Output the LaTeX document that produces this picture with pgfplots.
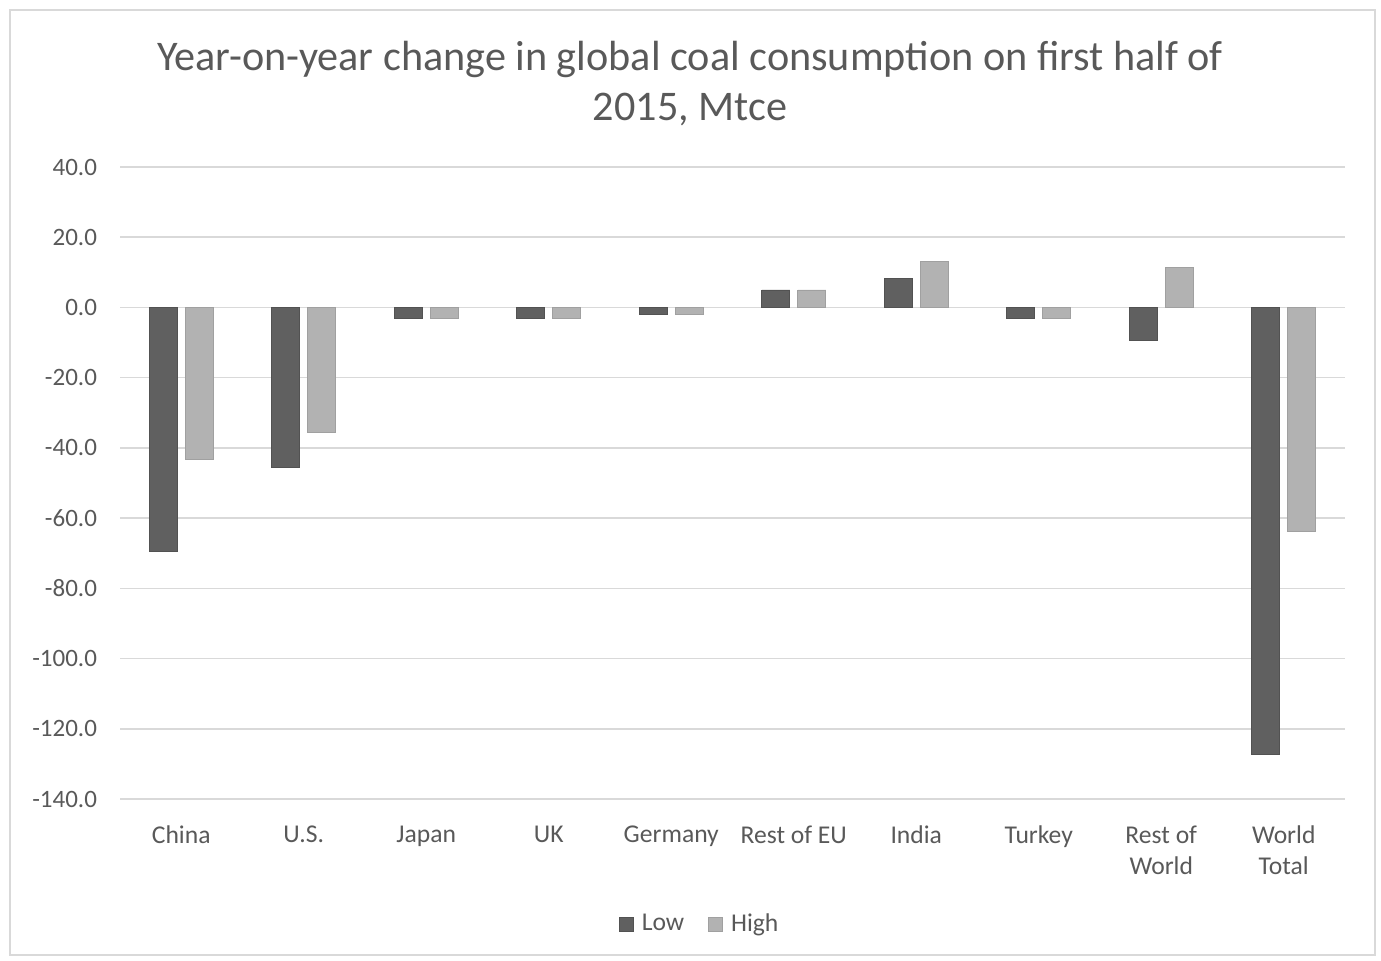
\documentclass[border=0pt]{standalone}
\usepackage{pgfplots}
\pgfplotsset{compat=1.18}
\usepackage{fontspec}
\setmainfont{Carlito}
\definecolor{txt}{HTML}{595959}
\definecolor{gridc}{HTML}{D9D9D9}
\definecolor{lowc}{HTML}{606060}
\definecolor{highc}{HTML}{B2B2B2}
\begin{document}
\begin{tikzpicture}[x=1pt,y=1pt]
\useasboundingbox (-60,-80.5) rectangle (630.5,399.5);
\draw[gridc, line width=0.8pt] (-55,-78) rectangle (627.5,394.5);
\node[text=txt, font=\fontsize{21.1}{25}\selectfont, align=center] at (285,357.5) {Year-on-year change in global coal consumption on first half of\\2015, Mtce};
\begin{axis}[
  at={(0,0)}, anchor=south west,
  scale only axis, width=612.5pt, height=316pt,
  xmin=-0.5, xmax=9.5, ymin=-140, ymax=40,
  axis line style={draw=none},
  ybar, bar width=14pt,
  ytick={-140,-120,-100,-80,-60,-40,-20,0,20,40},
  yticklabels={-140.0,-120.0,-100.0,-80.0,-60.0,-40.0,-20.0,0.0,20.0,40.0},
  ymajorgrids, grid style={gridc, line width=0.8pt},
  xtick={0,...,9}, major tick length=0pt,
  xticklabels={China,U.S.,Japan,UK,Germany,Rest of EU,India,Turkey,Rest of\\World,World\\Total},
  x tick label style={text=txt, font=\fontsize{12.8}{15.5}\selectfont, align=center, yshift=-10pt},
  y tick label style={text=txt, font=\fontsize{12.5}{14}\selectfont, xshift=-8pt},
  legend style={at={(0.474,-0.198)}, anchor=center, draw=none, fill=none, legend columns=2,
    font=\fontsize{12.8}{14}\selectfont, text=txt, /tikz/every even column/.append style={column sep=10pt}},
  legend image code/.code={\fill[#1] (0pt,-3.5pt) rectangle (7pt,3.5pt);},
]
\addplot[fill=lowc, draw=lowc!85!black, line width=0.3pt, bar shift=-9pt] coordinates {
(0,-69.5) (1,-45.6) (2,-3.1) (3,-3.1) (4,-1.9) (5,5.0) (6,8.3) (7,-3.1) (8,-9.3) (9,-127.2)};
\addplot[fill=highc, draw=highc!90!black, line width=0.3pt, bar shift=9pt] coordinates {
(0,-43.2) (1,-35.5) (2,-3.1) (3,-3.1) (4,-1.9) (5,5.0) (6,13.2) (7,-3.1) (8,11.3) (9,-63.8)};
\legend{\,Low,\,High}
\end{axis}
\end{tikzpicture}
\end{document}
